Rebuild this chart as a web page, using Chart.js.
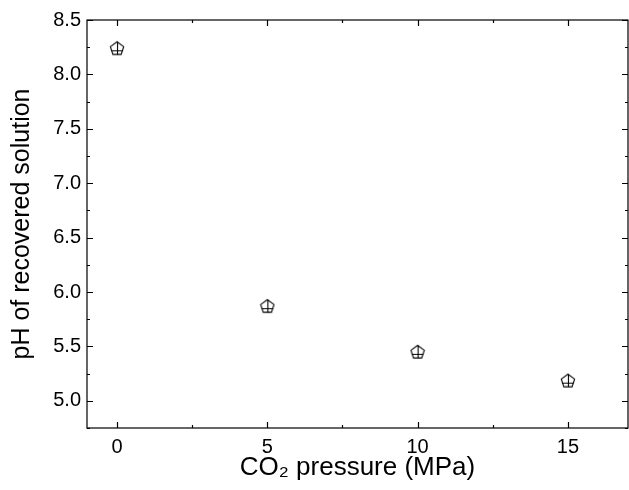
<!DOCTYPE html>
<html>
<head>
<meta charset="utf-8">
<script src="https://cdn.jsdelivr.net/npm/chart.js@4"></script>
<style>
  html, body { margin: 0; padding: 0; background: #fff; }
  #wrap { width: 629px; height: 490px; }
</style>
</head>
<body>
<div id="wrap"><canvas id="phChart" width="629" height="490"></canvas></div>
<script>
// data
const pressures = [0, 5, 10, 15];
const phValues = [8.24, 5.87, 5.45, 5.185];
const xTickValues = [0, 5, 10, 15];
const xMinorValues = [2.5, 7.5, 12.5];
const yTickValues = [5.0, 5.5, 6.0, 6.5, 7.0, 7.5, 8.0, 8.5];
const yMinorValues = [4.75, 5.25, 5.75, 6.25, 6.75, 7.25, 7.75, 8.25];

// crossed pentagon marker
function makeMarker() {
    const c = document.createElement('canvas');
    c.width = 16; c.height = 16;
    const g = c.getContext('2d');
    const cx = 8, cy = 8.5, r = 7;
    const pts = [];
    for (let i = 0; i < 5; i++) {
        const a = -Math.PI / 2 + i * 2 * Math.PI / 5;
        pts.push([cx + r * Math.cos(a), cy + r * Math.sin(a)]);
    }
    g.strokeStyle = '#000';
    g.lineWidth = 1.1;
    g.beginPath();
    pts.forEach((p, i) => i ? g.lineTo(p[0], p[1]) : g.moveTo(p[0], p[1]));
    g.closePath();
    g.stroke();
    g.beginPath();
    g.moveTo(cx + 0.5, pts[0][1]);
    g.lineTo(cx + 0.5, pts[2][1]);
    g.moveTo(pts[4][0] + 0.6, 10.5);
    g.lineTo(pts[1][0] - 0.6, 10.5);
    g.stroke();
    return c;
}

// inward ticks on all four sides, mirrored like the original plot
const frameTicks = {
    id: 'frameTicks',
    afterDraw(chart) {
        const ctx = chart.ctx;
        const a = chart.chartArea;
        const xs = chart.scales.x, ys = chart.scales.y;
        ctx.save();
        ctx.strokeStyle = '#000';
        ctx.lineWidth = 1.2;
        ctx.strokeRect(a.left, a.top, a.right - a.left, a.bottom - a.top);
        ctx.beginPath();
        const xt = (v, len) => {
            const px = Math.round(xs.getPixelForValue(v)) + 0.5;
            ctx.moveTo(px, a.bottom); ctx.lineTo(px, a.bottom - len);
            ctx.moveTo(px, a.top); ctx.lineTo(px, a.top + len);
        };
        const yt = (v, len) => {
            const py = Math.round(ys.getPixelForValue(v)) + 0.5;
            ctx.moveTo(a.left, py); ctx.lineTo(a.left + len, py);
            ctx.moveTo(a.right, py); ctx.lineTo(a.right - len, py);
        };
        xTickValues.forEach(v => xt(v, 6));
        xMinorValues.forEach(v => xt(v, 3));
        yTickValues.forEach(v => yt(v, 6));
        yMinorValues.forEach(v => yt(v, 3));
        ctx.stroke();
        ctx.restore();
    }
};

const ctx = document.getElementById('phChart').getContext('2d');
new Chart(ctx, {
    type: 'scatter',
    data: {
        datasets: [{
            data: pressures.map((p, i) => ({ x: p, y: phValues[i] })),
            pointStyle: makeMarker(),
            pointRadius: 8,
            showLine: false
        }]
    },
    options: {
        responsive: false,
        animation: false,
        layout: { autoPadding: false, padding: { top: 20, right: 1, left: 0, bottom: 0 } },
        plugins: { legend: { display: false }, tooltip: { enabled: false } },
        scales: {
            x: {
                type: 'linear',
                min: -1, max: 17,
                afterBuildTicks: s => { s.ticks = xTickValues.map(v => ({ value: v })); },
                afterFit: s => { s.height = 62; s.paddingRight = 0; s.paddingLeft = 0; },
                grid: { display: false, drawTicks: false },
                border: { display: false },
                ticks: {
                    color: '#000', padding: 7,
                    font: { family: 'Liberation Sans', size: 20 },
                    callback: v => String(v)
                },
                title: {
                    display: true, text: 'CO₂ pressure (MPa)', color: '#000',
                    font: { family: 'Liberation Sans', size: 26 },
                    padding: { top: 0, bottom: 7 }
                }
            },
            y: {
                type: 'linear',
                min: 4.75, max: 8.5,
                afterBuildTicks: s => { s.ticks = yTickValues.map(v => ({ value: v })); },
                afterFit: s => { s.width = 87; s.paddingTop = 0; s.paddingBottom = 0; },
                grid: { display: false, drawTicks: false },
                border: { display: false },
                ticks: {
                    color: '#000', padding: 6,
                    font: { family: 'Liberation Sans', size: 20 },
                    callback: v => Number(v).toFixed(1)
                },
                title: {
                    display: true, text: 'pH of recovered solution', color: '#000',
                    font: { family: 'Liberation Sans', size: 25 },
                    padding: { top: 7, bottom: 0 }
                }
            }
        }
    },
    plugins: [frameTicks]
});
</script>
</body>
</html>
